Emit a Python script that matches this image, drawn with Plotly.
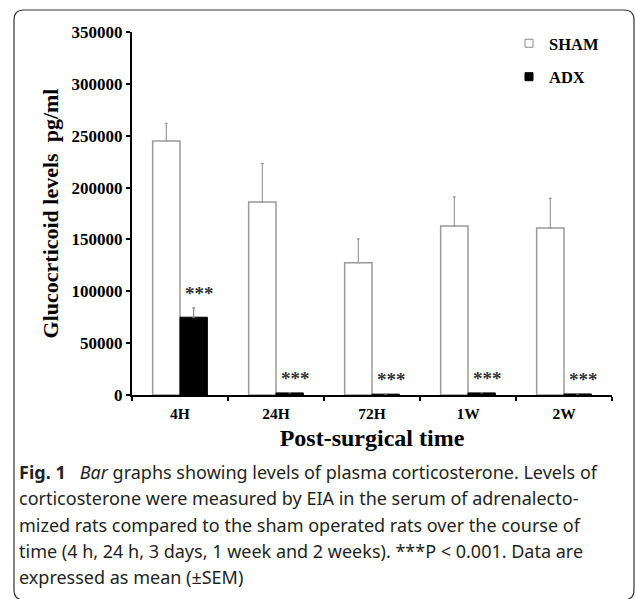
import plotly.graph_objects as go

# Post-surgical plasma corticosterone, mean and SEM (pg/ml)
categories = ["4H", "24H", "72H", "1W", "2W"]
sham_mean = [245000, 186000, 127500, 163000, 161000]
sham_sem = [17000, 37000, 23000, 28000, 28500]
adx_mean = [75000, 2000, 800, 2000, 1000]
adx_sem = [9000, 400, 200, 400, 200]
sig_labels = ["***", "***", "***", "***", "***"]

W, H = 635, 599
L, R, T, B = 132, 612, 32, 395
BARGAP = 0.43

SERIF = "Liberation Serif, Times New Roman, serif"
SANS = "Noto Sans, Open Sans, sans-serif"


def px_x(X):
    return (X - L) / (R - L)


def px_y(Y):
    return (B - Y) / (B - T)


fig = go.Figure()

fig.add_trace(go.Bar(
    x=categories, y=sham_mean, name="SHAM", showlegend=False,
    marker=dict(color="white", line=dict(color="#9a9a9a", width=1.5)),
    error_y=dict(type="data", array=sham_sem, symmetric=False,
                 arrayminus=[0] * len(sham_sem),
                 color="#9a9a9a", thickness=1.2, width=1.5),
))
fig.add_trace(go.Bar(
    x=categories, y=adx_mean, name="ADX", showlegend=False,
    marker=dict(color="black", line=dict(color="black", width=1)),
    error_y=dict(type="data", array=adx_sem, symmetric=False,
                 arrayminus=[0] * len(adx_sem),
                 color="#8a8a8a", thickness=1.2, width=1.5),
))

# legend entries with small square keys
fig.add_trace(go.Scatter(
    x=[None], y=[None], mode="markers", name="SHAM", legendgroup="sham",
    marker=dict(symbol="square", size=8, color="white",
                line=dict(color="#888", width=1)),
))
fig.add_trace(go.Scatter(
    x=[None], y=[None], mode="markers", name="ADX", legendgroup="adx",
    marker=dict(symbol="square", size=8, color="black",
                line=dict(color="black", width=1)),
))

annotations = []
adx_offset = (1 - BARGAP) / 4
for i, lab in enumerate(sig_labels):
    annotations.append(dict(
        x=i + adx_offset, y=adx_mean[i] + adx_sem[i], xref="x", yref="y",
        text=lab, showarrow=False, xanchor="center", yanchor="bottom",
        xshift=6, yshift=2,
        font=dict(family=SERIF, size=19, color="#333", weight="bold"),
    ))

caption_lines = [
    "<b>Fig. 1</b>\u00a0\u00a0 <i>Bar</i> graphs showing levels of plasma corticosterone. Levels of",
    "corticosterone were measured by EIA in the serum of adrenalecto-",
    "mized rats compared to the sham operated rats over the course of",
    "time (4 h, 24 h, 3 days, 1 week and 2 weeks). ***P &lt; 0.001. Data are",
    "expressed as mean (\u00b1SEM)",
]
cap_fs = 18
baselines = [477.5, 504, 530.5, 557, 583]
for line, base in zip(caption_lines, baselines):
    annotations.append(dict(
        x=px_x(17), y=px_y(base - 0.32 * cap_fs), xref="paper", yref="paper",
        text=line, showarrow=False, xanchor="left", yanchor="middle",
        align="left", font=dict(family=SANS, size=cap_fs, color="#231f20"),
    ))

# rounded frame around figure and caption
x0, x1, y0, y1, r = 14, 634, 10, 600, 10
pth = (
    f"M {px_x(x0 + r)} {px_y(y0)} L {px_x(x1 - r)} {px_y(y0)} "
    f"Q {px_x(x1)} {px_y(y0)} {px_x(x1)} {px_y(y0 + r)} "
    f"L {px_x(x1)} {px_y(y1 - r)} "
    f"Q {px_x(x1)} {px_y(y1)} {px_x(x1 - r)} {px_y(y1)} "
    f"L {px_x(x0 + r)} {px_y(y1)} "
    f"Q {px_x(x0)} {px_y(y1)} {px_x(x0)} {px_y(y1 - r)} "
    f"L {px_x(x0)} {px_y(y0 + r)} "
    f"Q {px_x(x0)} {px_y(y0)} {px_x(x0 + r)} {px_y(y0)} Z"
)
shapes = [dict(type="path", xref="paper", yref="paper", path=pth,
               line=dict(color="#333", width=1.2), layer="above")]

fig.update_layout(
    template="none",
    width=W, height=H,
    margin=dict(l=L, r=W - R, t=T, b=H - B, pad=0),
    paper_bgcolor="white", plot_bgcolor="white",
    barmode="group", bargap=BARGAP, bargroupgap=0,
    showlegend=True,
    legend=dict(
        x=px_x(509), y=px_y(26), xanchor="left", yanchor="top",
        font=dict(family=SERIF, size=16.5, color="black", weight="bold"),
        bgcolor="rgba(0,0,0,0)", borderwidth=0,
        tracegroupgap=9, traceorder="grouped", itemsizing="trace",
    ),
    xaxis=dict(
        type="category", showline=True, linecolor="black", linewidth=2,
        ticks="outside", tickson="boundaries", ticklen=4, tickwidth=2,
        tickcolor="black", showgrid=False, zeroline=False,
        automargin=False, ticklabelstandoff=3,
        tickfont=dict(family=SERIF, size=15.5, color="black", weight="bold"),
        title=dict(text="Post-surgical time", standoff=9,
                   font=dict(family=SERIF, size=24, color="black", weight="bold")),
    ),
    yaxis=dict(
        range=[0, 350000], dtick=50000, tickformat="d",
        showline=True, linecolor="black", linewidth=2,
        ticks="outside", ticklen=4, tickwidth=1.5, tickcolor="black",
        showgrid=False, zeroline=False, automargin=False,
        tickfont=dict(family=SERIF, size=17, color="black", weight="bold"),
        title=dict(text="Glucocrticoid levels\u00a0 pg/ml", standoff=7,
                   font=dict(family=SERIF, size=22, color="black", weight="bold")),
    ),
    annotations=annotations,
    shapes=shapes,
)

fig.write_html("out.html")
